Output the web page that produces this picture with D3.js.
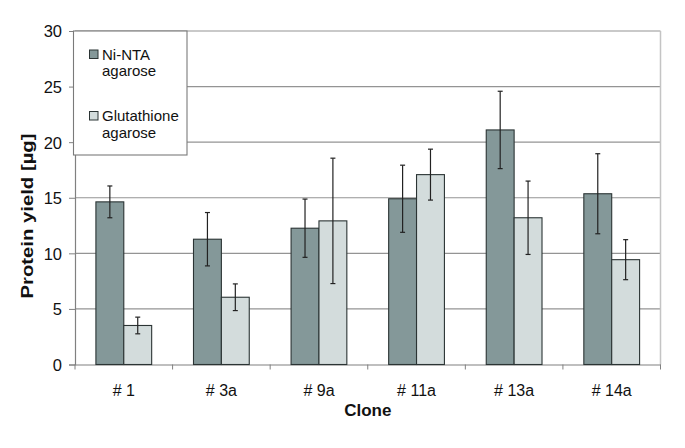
<!DOCTYPE html>
<html><head><meta charset="utf-8">
<script src="https://cdn.jsdelivr.net/npm/d3@7"></script>
<style>
html,body{margin:0;padding:0;background:#fff;}
svg{display:block;font-family:"Liberation Sans",Arial,sans-serif;}
</style></head>
<body><svg id="c" width="685" height="448"></svg>
<script>
const clones = ["# 1", "# 3a", "# 9a", "# 11a", "# 13a", "# 14a"];
const niNta = [14.63, 11.27, 12.26, 14.91, 21.1, 15.36];
const niNtaErr = [1.43, 2.4, 2.62, 3.02, 3.48, 3.6];
const glutathione = [3.51, 6.05, 12.92, 17.08, 13.2, 9.43];
const glutathioneErr = [0.75, 1.2, 5.64, 2.29, 3.3, 1.8];
const seriesNames = [["Ni-NTA", "agarose"], ["Glutathione", "agarose"]];
const yTicks = [0, 5, 10, 15, 20, 25, 30];
const yTitle = "Protein yield [µg]";
const xTitle = "Clone";

const colors = ["#849899", "#d3dcdc"];
const svg = d3.select("#c");
const L = 75, R = 660.5, T = 31, B = 364.5;

const x = d3.scaleBand().domain(clones).range([L, R]).padding(0);
const y = d3.scaleLinear().domain([0, 30]).range([B, T]);
const bw = x.bandwidth() / 3.5;

// gridlines
svg.append("g").selectAll("line").data(yTicks.filter(d => d > 0)).join("line")
  .attr("x1", L).attr("x2", R).attr("y1", d => y(d)).attr("y2", d => y(d))
  .attr("stroke", "#949494").attr("stroke-width", 1.2);
// right border
svg.append("line").attr("x1", R).attr("x2", R).attr("y1", T).attr("y2", B)
  .attr("stroke", "#c4c4c4").attr("stroke-width", 1.5);

// axes
const yAxis = d3.axisLeft(y).tickValues(yTicks).tickSize(6).tickPadding(7).tickFormat(d3.format("d"));
const gy = svg.append("g").attr("transform", `translate(${L},0)`).call(yAxis);
gy.select(".domain").attr("stroke", "#808080").attr("stroke-width", 1.2);
gy.selectAll(".tick line").attr("stroke", "#808080");
gy.selectAll(".tick text").attr("font-size", 16.5).attr("fill", "#111")
  .attr("font-family", "Liberation Sans, Arial, sans-serif").attr("dy", "0.36em");

const xAxis = d3.axisBottom(x).tickSize(0).tickPadding(0);
const gx = svg.append("g").attr("transform", `translate(0,${B})`).call(xAxis);
gx.select(".domain").attr("stroke", "#808080").attr("stroke-width", 1.2);
gx.selectAll(".tick text").attr("font-size", 16).attr("fill", "#111")
  .attr("font-family", "Liberation Sans, Arial, sans-serif").attr("dy", 0).attr("y", 31);
// category boundary ticks
svg.append("g").selectAll("line").data(d3.range(clones.length + 1)).join("line")
  .attr("x1", i => L + i * x.step()).attr("x2", i => L + i * x.step())
  .attr("y1", B).attr("y2", B + 5).attr("stroke", "#808080");

// bars
const series = [
  {vals: niNta, err: niNtaErr, off: 0},
  {vals: glutathione, err: glutathioneErr, off: 1}
];
series.forEach((s, si) => {
  const g = svg.append("g");
  g.selectAll("rect").data(clones).join("rect")
    .attr("x", (c) => x(c) + x.bandwidth() / 2 - bw + s.off * bw)
    .attr("width", bw)
    .attr("y", (c, i) => y(s.vals[i]))
    .attr("height", (c, i) => B - y(s.vals[i]))
    .attr("fill", colors[si]).attr("stroke", "#2b3434").attr("stroke-width", 1.1);
});
series.forEach((s) => {
  const g = svg.append("g").attr("stroke", "#222").attr("stroke-width", 1.2);
  clones.forEach((c, i) => {
    const cx = x(c) + x.bandwidth() / 2 - bw / 2 + s.off * bw;
    const hi = y(s.vals[i] + s.err[i]), lo = y(s.vals[i] - s.err[i]);
    g.append("line").attr("x1", cx).attr("x2", cx).attr("y1", hi).attr("y2", lo);
    g.append("line").attr("x1", cx - 2.5).attr("x2", cx + 2.5).attr("y1", hi).attr("y2", hi);
    g.append("line").attr("x1", cx - 2.5).attr("x2", cx + 2.5).attr("y1", lo).attr("y2", lo);
  });
});

// titles
svg.append("text").attr("x", (L + R) / 2).attr("y", 416).attr("text-anchor", "middle")
  .attr("font-size", 17).attr("font-weight", "bold").attr("fill", "#111").text(xTitle);
svg.append("text").attr("transform", "translate(33,216) rotate(-90)").attr("text-anchor", "middle")
  .attr("font-size", 17).attr("font-weight", "bold").attr("fill", "#111")
  .attr("textLength", 165).attr("lengthAdjust", "spacingAndGlyphs").text(yTitle);

// legend
const lg = svg.append("g");
lg.append("rect").attr("x", 73.5).attr("y", 31).attr("width", 113.5).attr("height", 124)
  .attr("fill", "#fff").attr("stroke", "#7a7a7a").attr("stroke-width", 1.1);
const legY = [50, 111.5];
seriesNames.forEach((nm, i) => {
  lg.append("rect").attr("x", 89.5).attr("y", legY[i]).attr("width", 8.5).attr("height", 8.5)
    .attr("fill", colors[i]).attr("stroke", "#2b3434").attr("stroke-width", 1);
  nm.forEach((t, j) => {
    lg.append("text").attr("x", 102).attr("y", legY[i] + 9.5 + j * 16.5)
      .attr("font-size", 15).attr("fill", "#111").text(t);
  });
});
</script></body></html>
